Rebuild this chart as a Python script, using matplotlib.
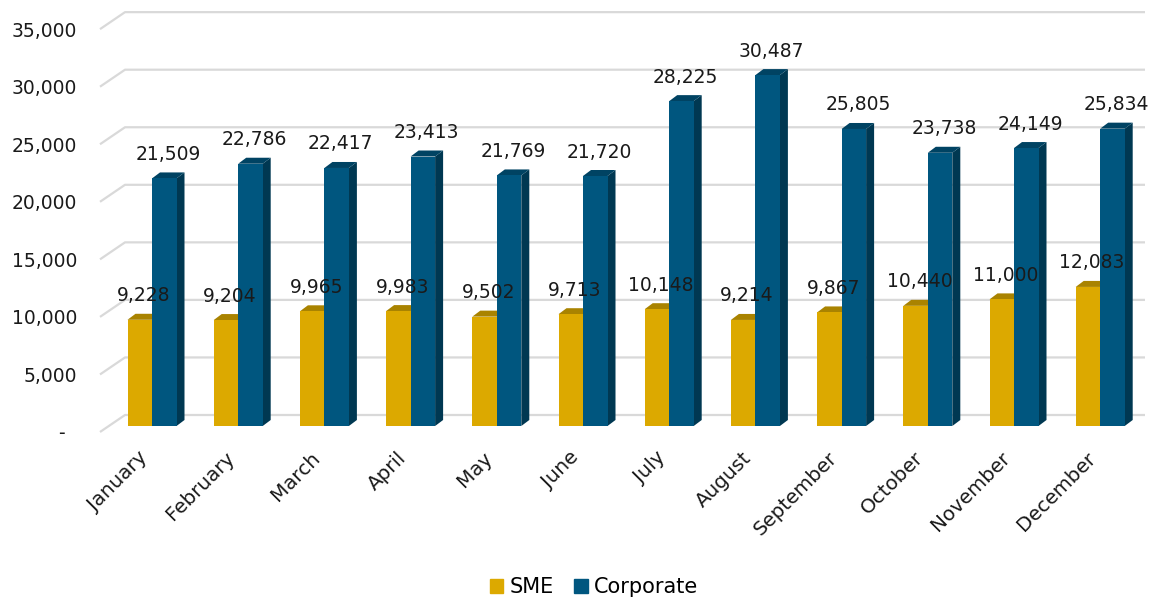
import matplotlib.pyplot as plt
from matplotlib.patches import Polygon, Patch

months = ["January", "February", "March", "April", "May", "June", "July",
          "August", "September", "October", "November", "December"]
sme = [9228, 9204, 9965, 9983, 9502, 9713, 10148, 9214, 9867, 10440, 11000, 12083]
corporate = [21509, 22786, 22417, 23413, 21769, 21720, 28225, 30487, 25805,
             23738, 24149, 25834]
yticks = [0, 5000, 10000, 15000, 20000, 25000, 30000, 35000]

W, H = 1149, 598
PX_X = 86.2      # pixels per category
PX_Y = 0.01151   # pixels per unit
X0, Y0 = 152, 426

def dx(px):
    return px / PX_X

def dy(px):
    return px / PX_Y

sme_col = ("#DCA900", "#A98300", "#B48C00")
corp_col = ("#00567F", "#004363", "#003852")  # front, top, side

fig = plt.figure(figsize=(W / 100, H / 100), dpi=100)
ax = fig.add_axes([0, 0, 1, 1])
ax.set_xlim(-X0 / PX_X, (W - X0) / PX_X)
ax.set_ylim((Y0 - H) / PX_Y, Y0 / PX_Y)
ax.axis("off")

font = "DejaVu Sans"
txt = "#1a1a1a"

# back wall gridlines with the short slanted floor/wall edge on the left
for v in yticks:
    yb = v + dy(11)
    ax.plot([dx(100 - X0), dx(125 - X0), dx(1145 - X0)],
            [v - dy(6), yb, yb], color="#D9D9D9", lw=1.6,
            solid_capstyle="butt", zorder=1)
    label = "-" if v == 0 else f"{v:,}"
    ax.text(dx(77 - X0) if v else dx(61 - X0), v - dy(8), label,
            ha="right" if v else "center", va="center", fontsize=13.5,
            family=font, color=txt)

bw = dx(24.5)
ddx, ddy = dx(8), dy(6)

def bar3d(x, h, cols):
    front, top, side = cols
    ax.add_patch(Polygon([(x + bw, 0), (x + bw, h), (x + bw + ddx, h + ddy),
                          (x + bw + ddx, ddy)], closed=True, fc=side, ec="none", zorder=3))
    ax.add_patch(Polygon([(x, h), (x + bw, h), (x + bw + ddx, h + ddy),
                          (x + ddx, h + ddy)], closed=True, fc=top, ec="none", zorder=3))
    ax.add_patch(Polygon([(x, 0), (x + bw, 0), (x + bw, h), (x, h)],
                         closed=True, fc=front, ec="none", zorder=3))

for i, (s, c) in enumerate(zip(sme, corporate)):
    bar3d(i - bw, s, sme_col)
    bar3d(i, c, corp_col)
    ax.text(i - bw / 2 + ddx / 2, s + ddy + dy(18), f"{s:,}", ha="center",
            va="center", fontsize=13.5, family=font, color=txt, zorder=5)
    ax.text(i + bw / 2 + ddx / 2, c + ddy + dy(18), f"{c:,}", ha="center",
            va="center", fontsize=13.5, family=font, color=txt, zorder=5)
    ax.text(i - dx(7), -dy(29), months[i], rotation=45, rotation_mode="anchor",
            ha="right", va="center", fontsize=14.3, family=font, color=txt)

handles = [Patch(color=sme_col[0], label="SME"),
           Patch(color=corp_col[0], label="Corporate")]
fig.legend(handles=handles, loc="lower center", ncol=2, frameon=False,
           bbox_to_anchor=(0.517, -0.03), handlelength=0.65, handleheight=0.65,
           handletextpad=0.3, columnspacing=1.0,
           prop={"family": font, "size": 15})

plt.savefig("out.png", dpi=100)
